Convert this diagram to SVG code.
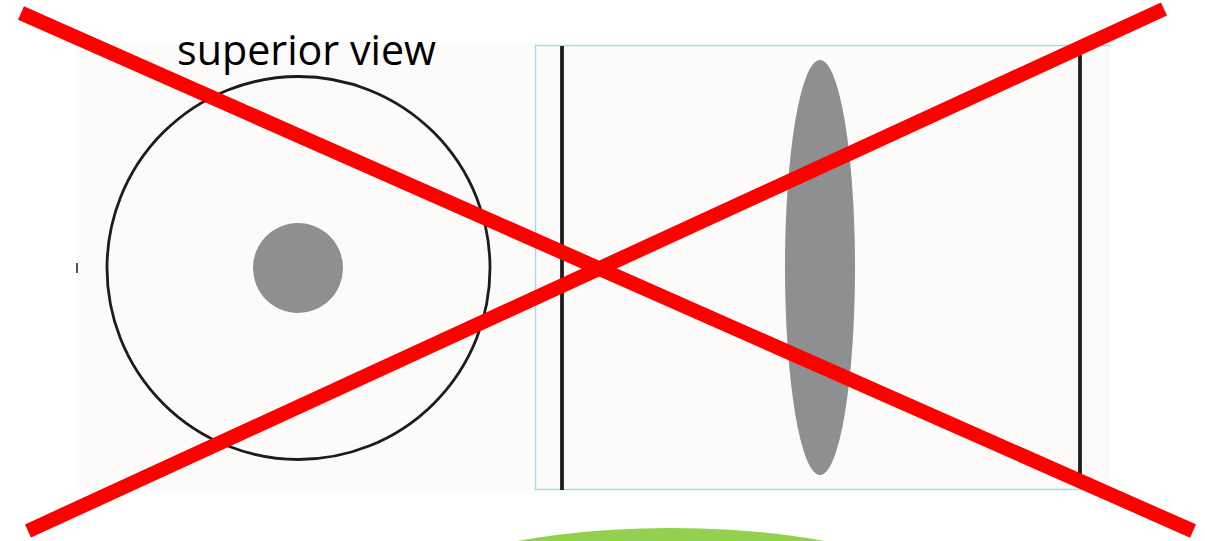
<svg xmlns="http://www.w3.org/2000/svg" width="1205" height="541" viewBox="0 0 1205 541">
  <style>
    .panel { fill: #fcfbfa; }
    .rim { fill: none; stroke: #1c1c1c; stroke-width: 2.8; }
    .blob { fill: #8e8f90; }
    .wall { stroke: #1e1e1e; stroke-width: 3.8; }
    .frame { stroke: #a6dde5; stroke-width: 1.5; }
    .cross { stroke: #ff0000; stroke-width: 14.5; stroke-linecap: butt; }
    .label { font-family: "Open Sans", "Liberation Sans", sans-serif; font-size: 42px; fill: #000; }
  </style>
  <rect width="1205" height="541" fill="#ffffff"/>

  <g id="superior-view">
    <rect class="panel" x="76" y="43" width="460" height="447"/>
    <rect x="76" y="263" width="2" height="10" fill="#555"/>
    <circle class="rim" cx="298.5" cy="268" r="191.5"/>
    <circle class="blob" cx="298" cy="268" r="45"/>
  </g>

  <g id="side-view">
    <rect class="panel" x="535" y="45" width="575" height="445"/>
    <line class="frame" x1="535" y1="45.5" x2="1110" y2="45.5"/>
    <line class="frame" x1="535.5" y1="45" x2="535.5" y2="490"/>
    <line class="frame" x1="535" y1="489.5" x2="1110" y2="489.5" stroke="#c5dde2"/>
    <line class="wall" x1="562" y1="46" x2="562" y2="490"/>
    <line class="wall" x1="1080" y1="55" x2="1080" y2="475"/>
    <ellipse class="blob" cx="820" cy="267.5" rx="35" ry="207.5"/>
  </g>

  <g id="label">
    <text class="label" x="177" y="65" textLength="259" lengthAdjust="spacingAndGlyphs">superior view</text>
  </g>

  <g id="green-shape">
    <ellipse cx="671" cy="620" rx="300" ry="92" fill="#92d050"/>
  </g>

  <g id="connectors">
    <line class="cross" x1="21" y1="13" x2="1193" y2="531"/>
    <line class="cross" x1="28" y1="531" x2="1164" y2="9"/>
  </g>
</svg>
